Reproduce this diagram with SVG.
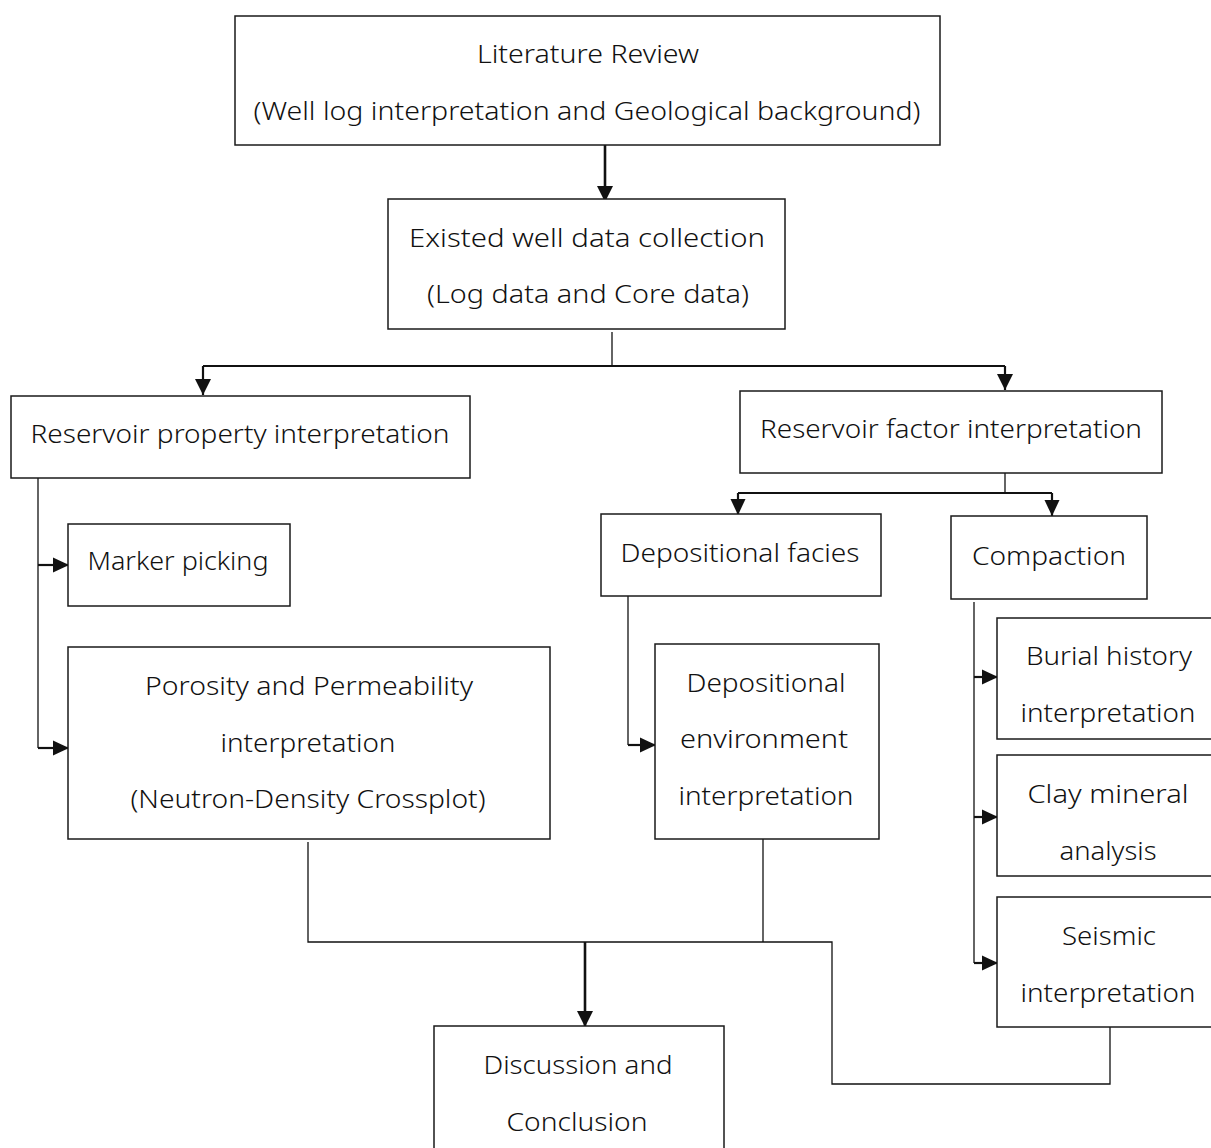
<svg xmlns="http://www.w3.org/2000/svg" width="1211" height="1148" viewBox="0 0 1211 1148">
<style>
.box{fill:#fff;stroke:#1a1a1a;stroke-width:1.5}
text{font-family:"Noto Sans","Open Sans",sans-serif;font-size:26px;font-weight:350;fill:#111;text-anchor:middle}
.thin{fill:none;stroke:#111;stroke-width:1.3}
.mid{fill:none;stroke:#111;stroke-width:2.2}
.thick{fill:none;stroke:#111;stroke-width:2.6}
</style>
<defs>
<marker id="ah" markerUnits="userSpaceOnUse" markerWidth="18" markerHeight="18" refX="16" refY="9" orient="auto"><path d="M0,1 L16,9 L0,17 z" fill="#111"/></marker>
<marker id="ahs" markerUnits="userSpaceOnUse" markerWidth="18" markerHeight="17" refX="16" refY="8.5" orient="auto"><path d="M0,1 L16,8.5 L0,16 z" fill="#111"/></marker>
</defs>
<rect width="1211" height="1148" fill="#fff"/>
<g id="connectors">
<path class="thick" d="M605,145 V202" marker-end="url(#ah)"/>
<path class="thin" d="M612,332 V367"/>
<path class="mid" d="M203,366 H1005"/>
<path class="mid" d="M203,366 V395" marker-end="url(#ah)"/>
<path class="mid" d="M1005,366 V390" marker-end="url(#ah)"/>
<path class="thin" d="M38,478 V748"/>
<path class="mid" d="M38,565 H69" marker-end="url(#ahs)"/>
<path class="mid" d="M38,748 H69" marker-end="url(#ahs)"/>
<path class="thin" d="M1005,473 V493"/>
<path class="mid" d="M738,493 H1052"/>
<path class="mid" d="M738,493 V515" marker-end="url(#ahs)"/>
<path class="mid" d="M1052,493 V516" marker-end="url(#ahs)"/>
<path class="thin" d="M628,596 V745"/>
<path class="mid" d="M628,745 H656" marker-end="url(#ahs)"/>
<path class="thin" d="M974,602 V963"/>
<path class="mid" d="M974,677 H998" marker-end="url(#ahs)"/>
<path class="mid" d="M974,817 H998" marker-end="url(#ahs)"/>
<path class="mid" d="M974,963 H998" marker-end="url(#ahs)"/>
<path class="thin" d="M308,842 V942 H832 V1084 H1110 V1027"/>
<path class="thin" d="M763,839 V942"/>
<path class="thick" d="M585,942 V1027" marker-end="url(#ah)"/>
</g>
<g id="literature-review">
<rect class="box" x="235" y="16" width="705" height="129"/>
<text x="588" y="63" textLength="222" lengthAdjust="spacingAndGlyphs">Literature Review</text>
<text x="587" y="120" textLength="667" lengthAdjust="spacingAndGlyphs">(Well log interpretation and Geological background)</text>
</g>
<g id="existed-well-data">
<rect class="box" x="388" y="199" width="397" height="130"/>
<text x="587" y="247" textLength="356" lengthAdjust="spacingAndGlyphs">Existed well data collection</text>
<text x="588" y="303" textLength="322" lengthAdjust="spacingAndGlyphs">(Log data and Core data)</text>
</g>
<g id="reservoir-property">
<rect class="box" x="11" y="396" width="459" height="82"/>
<text x="240" y="443" textLength="419" lengthAdjust="spacingAndGlyphs">Reservoir property interpretation</text>
</g>
<g id="reservoir-factor">
<rect class="box" x="740" y="391" width="422" height="82"/>
<text x="951" y="438" textLength="382" lengthAdjust="spacingAndGlyphs">Reservoir factor interpretation</text>
</g>
<g id="marker-picking">
<rect class="box" x="68" y="524" width="222" height="82"/>
<text x="178" y="570" textLength="181" lengthAdjust="spacingAndGlyphs">Marker picking</text>
</g>
<g id="porosity-permeability">
<rect class="box" x="68" y="647" width="482" height="192"/>
<text x="309" y="695" textLength="328" lengthAdjust="spacingAndGlyphs">Porosity and Permeability</text>
<text x="308" y="752" textLength="175" lengthAdjust="spacingAndGlyphs">interpretation</text>
<text x="308" y="808" textLength="355" lengthAdjust="spacingAndGlyphs">(Neutron-Density Crossplot)</text>
</g>
<g id="depositional-facies">
<rect class="box" x="601" y="514" width="280" height="82"/>
<text x="740" y="562" textLength="239" lengthAdjust="spacingAndGlyphs">Depositional facies</text>
</g>
<g id="compaction">
<rect class="box" x="951" y="516" width="196" height="83"/>
<text x="1049" y="565" textLength="154" lengthAdjust="spacingAndGlyphs">Compaction</text>
</g>
<g id="depositional-environment">
<rect class="box" x="655" y="644" width="224" height="195"/>
<text x="766" y="692" textLength="159" lengthAdjust="spacingAndGlyphs">Depositional</text>
<text x="764" y="748" textLength="168" lengthAdjust="spacingAndGlyphs">environment</text>
<text x="766" y="805" textLength="175" lengthAdjust="spacingAndGlyphs">interpretation</text>
</g>
<g id="burial-history">
<rect class="box" x="997" y="618" width="230" height="121"/>
<text x="1109" y="665" textLength="166" lengthAdjust="spacingAndGlyphs">Burial history</text>
<text x="1108" y="722" textLength="175" lengthAdjust="spacingAndGlyphs">interpretation</text>
</g>
<g id="clay-mineral">
<rect class="box" x="997" y="755" width="230" height="121"/>
<text x="1108" y="803" textLength="161" lengthAdjust="spacingAndGlyphs">Clay mineral</text>
<text x="1108" y="860" textLength="97" lengthAdjust="spacingAndGlyphs">analysis</text>
</g>
<g id="seismic">
<rect class="box" x="997" y="897" width="230" height="130"/>
<text x="1109" y="945" textLength="94" lengthAdjust="spacingAndGlyphs">Seismic</text>
<text x="1108" y="1002" textLength="175" lengthAdjust="spacingAndGlyphs">interpretation</text>
</g>
<g id="discussion">
<rect class="box" x="434" y="1026" width="290" height="140"/>
<text x="578" y="1074" textLength="189" lengthAdjust="spacingAndGlyphs">Discussion and</text>
<text x="577" y="1131" textLength="141" lengthAdjust="spacingAndGlyphs">Conclusion</text>
</g>
</svg>
